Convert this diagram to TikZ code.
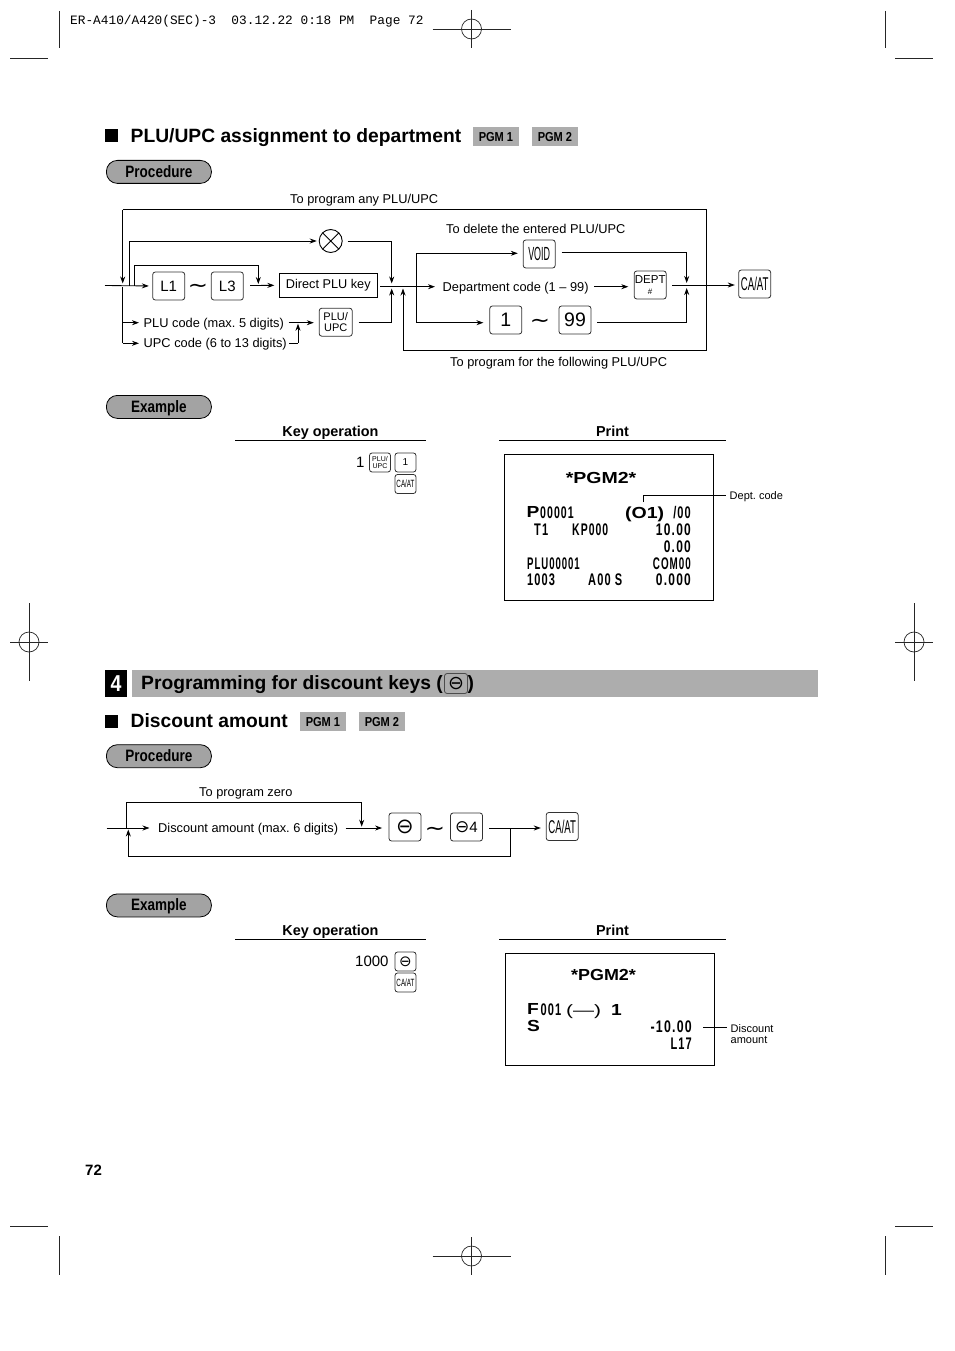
\documentclass[tikz,border=0pt]{standalone}
\usepackage{fontspec}
\usepackage{graphicx}
\setmainfont{Liberation Sans}
\newfontfamily\monof{Liberation Mono}
\newfontfamily\dejav{DejaVu Sans}
\newfontfamily\rcptf[LetterSpace=10,BoldFont={Liberation Sans Bold}]{Liberation Sans}
\usetikzlibrary{arrows.meta,calc}
\newcommand{\fs}[1]{\fontsize{#1}{#1}\selectfont}
\newcommand{\cond}[2]{\scalebox{#1}[1]{#2}}
\newcommand{\mns}[1]{{\dejav\fs{#1}⊖}}
\frenchspacing
\tikzset{
  x=1pt,y=-1pt,
  line/.style={line width=.85pt,draw=black},
  flow/.style={line,-{Stealth[length=7pt,width=5pt]}},
  crop/.style={line width=.7pt,draw=black!85},
  lab/.style={inner sep=0pt,anchor=west,text height=9.2pt,text depth=0pt,font=\fs{12.8}},
  heading/.style={inner sep=0pt,anchor=west,text height=13.8pt,text depth=0pt,font=\bfseries\fs{19.25}},
  colhead/.style={inner sep=0pt,text height=10.2pt,text depth=0pt,font=\bfseries\fs{14.4}},
  smalllab/.style={inner sep=0pt,anchor=west,text height=8pt,text depth=0pt,font=\fs{11}},
  key/.style={draw=black!80,line width=.8pt,rounded corners=2.6pt,inner sep=0pt,align=center,font=\fs{15}},
  bigkey/.style={key,minimum width=32pt,minimum height=28pt},
  minikey/.style={key,minimum width=21pt,minimum height=19pt,font=\fs{10}},
  tagbox/.style={fill=black!32,inner sep=0pt,minimum width=45.5pt,minimum height=19pt,font=\bfseries\fs{13}},
  pill/.style={draw=black,line width=.8pt,fill=black!36,rounded corners=11pt,minimum width=105pt,minimum height=23pt,inner sep=0pt,text height=12pt,text depth=1.5pt,font=\bfseries\fs{16.5}},
  squarebul/.style={fill=black,inner sep=0pt,minimum size=13pt},
  tilde/.style={inner sep=0pt,font=\dejav\fs{21}},
  rcpt/.style={inner sep=0pt,anchor=west,text height=12pt,text depth=0pt,font=\rcptf\bfseries\fs{12}},
  rcptr/.style={rcpt,anchor=east},
  rcptbig/.style={inner sep=0pt,font=\bfseries\fs{16}},
  framebox/.style={draw=black,line width=.8pt,inner sep=0pt,anchor=north west},
}
\newcommand{\rc}[2][.92]{\scalebox{#1}[1.4]{#2}}
\newcommand{\reg}[3]{% name, x, y
  \coordinate (#1) at (#2,#3);
  \draw[crop] ($(#1)+(-39,0)$) -- ($(#1)+(39,0)$);
  \draw[crop] ($(#1)+(0,-19)$) -- ($(#1)+(0,19)$);
  \draw[crop] (#1) circle (10);
}
\newcommand{\regv}[3]{% name, x, y (long vertical)
  \coordinate (#1) at (#2,#3);
  \draw[crop] ($(#1)+(-19,0)$) -- ($(#1)+(19,0)$);
  \draw[crop] ($(#1)+(0,-39)$) -- ($(#1)+(0,39)$);
  \draw[crop] (#1) circle (10);
}
\begin{document}
\begin{tikzpicture}
\useasboundingbox[fill=white] (0,0) rectangle (954,1351);

% printer marks
\draw[crop] (59,11) -- (59,48);
\draw[crop] (885,11) -- (885,48);
\draw[crop] (10,58.5) -- (48,58.5);
\draw[crop] (895,58.5) -- (933,58.5);
\draw[crop] (10,1226) -- (48,1226);
\draw[crop] (895,1226) -- (933,1226);
\draw[crop] (59,1236) -- (59,1275);
\draw[crop] (885,1236) -- (885,1275);
\reg{regtop}{471.5}{29}
\reg{regbot}{471.5}{1256}
\regv{regleft}{29}{642}
\regv{regright}{914}{642}
\node[lab,font=\monof\fs{12.8}] (slug) at (70,19.5) {ER-A410/A420(SEC)-3\ \ 03.12.22 0:18 PM\ \ Page 72};

% ---- heading 1
\node[squarebul,anchor=north west] (b1) at (105,129) {};
\node[heading] (h1) at (130.5,135.5) {PLU/UPC assignment to department};
\node[tagbox,anchor=north west] (t1a) at (473,127) {\cond{.85}{PGM 1}};
\node[tagbox,anchor=north west] (t1b) at (532,127) {\cond{.85}{PGM 2}};
\node[pill,anchor=north west] (proc1) at (106,160) {\cond{.82}{Procedure}};

% ---- flow 1
\node[lab] (lAny) at (290,198.5) {To program any PLU/UPC};
\node[lab] (lDel) at (446,228.5) {To delete the entered PLU/UPC};
\node[lab] (lFol) at (450,361.5) {To program for the following PLU/UPC};
\node[bigkey,minimum width=32pt] (L1) at (168.7,286) {L1};
\node[bigkey,minimum width=32pt] (L3) at (227.3,286) {L3};
\node[tilde] (tl1) at (198,288) {\scalebox{1.15}[1]{∼}};
\node[draw=black,line width=.85pt,minimum width=98pt,minimum height=24pt,inner sep=0pt,font=\fs{12.7}] (dplu) at (328.3,285.3) {Direct PLU key};
\node[circle,draw=black,line width=.9pt,minimum size=23pt,inner sep=0pt,
  path picture={\draw[line width=.9pt] (path picture bounding box.north west) -- (path picture bounding box.south east)
   (path picture bounding box.north east) -- (path picture bounding box.south west);}] (xkey) at (330.7,241) {};
\node[lab] (lplu) at (143.5,322.8) {PLU code (max. 5 digits)};
\node[lab] (lupc) at (143.5,342.8) {UPC code (6 to 13 digits)};
\node[key,minimum width=33pt,minimum height=28pt,font=\fs{11},text depth=0pt,align=center] (plukey) at (335.7,322.2) {PLU/\\[0pt]UPC};
\node[bigkey] (void) at (539.2,254) {\cond{.47}{\fs{19}VOID}};
\node[lab] (ldept) at (442.5,286.7) {Department code (1 -- 99)};
\node[key,minimum width=32pt,minimum height=28pt,font=\fs{11.5},align=center] (dept) at (650.2,285) {DEPT\\[0pt]\fs{8}\#};
\node[bigkey,font=\fs{19.5}] (k1) at (505.8,320) {1};
\node[bigkey,font=\fs{19.5}] (k99) at (575,320) {99};
\node[tilde] (tl2) at (540,323) {\scalebox{1.15}[1]{∼}};
\node[bigkey] (caat) at (754.7,284) {\cond{.52}{\fs{18.5}CA/AT}};

\coordinate (in1) at (105,285.5);
\coordinate (jb) at (129.3,285.5);
\coordinate (jc) at (134.7,285.5);
\coordinate (atop) at (122.7,209.5);
\coordinate (atip) at (122.7,283.5);
\coordinate (abot) at (122.7,287);
\coordinate (bxk) at (129.3,241);
\coordinate (cup) at (134.7,265.3);
\coordinate (cright) at (258.3,265.3);
\coordinate (cdown) at (258.3,284);
\coordinate (l3out) at (250,285.5);
\coordinate (m1) at (391.7,241);
\coordinate (mtip) at (391.7,283.5);
\coordinate (mlow) at (391.7,288.5);
\coordinate (mp) at (391.7,322.7);
\coordinate (mj) at (416.7,286.7);
\coordinate (dout) at (380,286.7);
\coordinate (v1) at (416.7,253.3);
\coordinate (v2) at (416.7,322.7);
\coordinate (rloop) at (403,350.7);
\coordinate (rtip) at (403,288.5);
\coordinate (rr) at (706.7,350.7);
\coordinate (rt) at (706.7,209.5);
\coordinate (p1) at (122.7,322.7);
\coordinate (u1) at (122.7,343.3);
\coordinate (ptip) at (139,322.7);
\coordinate (utip) at (139,343.3);
\coordinate (p2) at (288.7,322.7);
\coordinate (u2) at (289,343);
\coordinate (u3) at (298,343);
\coordinate (u4) at (298,323.7);
\coordinate (o1) at (686.7,252.3);
\coordinate (o1t) at (686.7,283);
\coordinate (o2) at (686.7,322);
\coordinate (o2t) at (686.7,288);
\coordinate (deptout) at (672,285);

\draw[flow,shorten >=3.5pt] (in1) -- (L1.west);
\draw[line] (rloop) -- (rr) -- (rt) -- (atop);
\draw[flow] (atop) -- (atip);
\draw[line] (abot) -- (u1);
\draw[flow] (u1) -- (utip);
\draw[flow] (p1) -- (ptip);
\draw[flow,shorten >=2pt] (jb) -- (bxk) -- (xkey.west);
\draw[line] (jc) -- (cup) -- (cright);
\draw[flow] (cright) -- (cdown);
\draw[flow,shorten >=4.5pt] (l3out) -- (dplu.west);
\draw[line,shorten <=5pt] (xkey.east) -- (m1);
\draw[flow] (m1) -- (mtip);
\draw[line,shorten <=6pt] (plukey.east |- mp) -- (mp);
\draw[flow] (mp) -- (mlow);
\draw[line] (dout) -- (mj);
\draw[flow,shorten >=7.5pt] (mj) -- (ldept.west);
\draw[flow,shorten >=5pt] (v1) -- (void.west |- v1);
\draw[line] (v1) -- (v2);
\draw[flow,shorten >=6pt] (v2) -- (k1.west |- v2);
\draw[flow] (rloop) -- (rtip);
\draw[flow,shorten >=5pt] (p2) -- (plukey.west |- p2);
\draw[line] (u2) -- (u3);
\draw[flow] (u3) -- (u4);
\draw[flow,shorten <=151.5pt,shorten >=5.5pt] (ldept.west) -- (dept.west |- ldept.west);
\draw[line,shorten <=6pt] (void.east |- o1) -- (o1);
\draw[flow] (o1) -- (o1t);
\draw[line,shorten <=6pt] (k99.east |- o2) -- (o2);
\draw[flow] (o2) -- (o2t);
\draw[flow,shorten >=3.5pt] (deptout) -- (caat.west |- deptout);

% ---- example 1
\node[pill,anchor=north west] (ex1) at (106,395) {\cond{.82}{Example}};
\node[colhead] (ko1) at (330.5,431.5) {Key operation};
\node[colhead] (pr1) at (612.5,431.5) {Print};
\draw[line] (235,440.5) -- (426,440.5);
\draw[line] (499,440.5) -- (726,440.5);
\node[lab,text height=10.7pt,font=\fs{15}] (n1) at (356,462.5) {1};
\node[minikey,font=\fs{7},align=center] (kp) at (380,462.5) {PLU/\\[0pt]UPC};
\node[minikey] (k1s) at (405.5,462.5) {1};
\node[minikey] (kc1) at (405.5,484) {\cond{.6}{\fs{10.5}CA/AT}};

\node[framebox,minimum width=209pt,minimum height=145.7pt] (rec1) at (504.3,454.3) {};
\node[rcptbig] (r1t) at (601,477.5) {\scalebox{1.22}[1]{*PGM2*}};
\node[rcptbig,anchor=west] (r1p) at (526.5,512) {\scalebox{1.2}[1]{P}};
\node[rcpt] (r1a) at (540,512) {\rc[.88]{00001}};
\node[rcpt,font=\bfseries\fs{16}] (r1b) at (625,512) {\scalebox{1.22}[1]{(O1)}};
\node[rcptr] (r1c) at (691,512) {\rc{/00}};
\node[rcpt] (r2a) at (534,529) {\rc{T1}};
\node[rcpt] (r2b) at (572,529) {\rc[.87]{KP000}};
\node[rcptr] (r2c) at (691,529) {\rc[1]{10.00}};
\node[rcptr] (r3c) at (691,546) {\rc[1]{0.00}};
\node[rcpt] (r4a) at (527,563) {\rc[.8]{PLU00001}};
\node[rcptr] (r4c) at (691,563) {\rc[.82]{COM00}};
\node[rcpt] (r5a) at (527,579.5) {\rc{1003}};
\node[rcpt] (r5b) at (588,579.5) {\rc{A00 S}};
\node[rcptr] (r5c) at (691,579.5) {\rc[1]{0.000}};
\node[smalllab] (ldc) at (729.5,495.5) {Dept. code};
\coordinate (dc1) at (643.3,502);
\coordinate (dc2) at (643.3,495.5);
\draw[line] (dc1) -- (dc2) -- ($(ldc.west)+(-3.5,0)$);

% ---- section banner
\node[fill=black,text=white,inner sep=0pt,minimum width=21.5pt,minimum height=27.5pt,anchor=north west,font=\bfseries\fs{23}] (sec) at (105,669.3) {\cond{.85}{4}};
\node[fill=black!32,inner sep=0pt,minimum width=686.5pt,minimum height=27pt,anchor=north west] (band) at (131.7,670) {};
\node[heading] (h2) at (141,683) {Programming for discount keys (};
\node[key,minimum width=23pt,minimum height=20pt,draw=black!70] (minus0) at (456,683.5) {\mns{19}};
\node[heading] (h2b) at (467.5,683) {)};

\node[squarebul,anchor=north west] (b2) at (105,714.5) {};
\node[heading] (h3) at (130.5,721) {Discount amount};
\node[tagbox,anchor=north west] (t2a) at (300,712) {\cond{.85}{PGM 1}};
\node[tagbox,anchor=north west] (t2b) at (359,712) {\cond{.85}{PGM 2}};
\node[pill,anchor=north west] (proc2) at (106,744.3) {\cond{.82}{Procedure}};

% ---- flow 2
\node[lab] (lzero) at (199,791.5) {To program zero};
\node[lab] (ldisc) at (158,828) {Discount amount (max. 6 digits)};
\node[bigkey] (mk) at (405,827) {\mns{21}};
\node[tilde] (tl3) at (435,831) {\scalebox{1.15}[1]{∼}};
\node[bigkey] (mk4) at (466.5,827) {\mns{17}{\fs{15}4}};
\node[bigkey] (caat2) at (562.2,826.5) {\cond{.52}{\fs{18.5}CA/AT}};
\coordinate (in2) at (106.7,828);
\coordinate (ztop) at (126.7,802.7);
\coordinate (zbot) at (126.7,828);
\coordinate (zr) at (361.7,802.7);
\coordinate (ztip) at (361.7,826.7);
\coordinate (a2) at (345.7,828);
\coordinate (a3) at (489.3,828);
\coordinate (a4) at (510,828);
\coordinate (rb) at (510,856.7);
\coordinate (rl) at (128.3,856.7);
\coordinate (rltip) at (128.3,829.5);
\draw[flow,shorten >=8.5pt] (in2) -- (ldisc.west);
\draw[line] (zbot) -- (ztop) -- (zr);
\draw[flow] (zr) -- (ztip);
\draw[flow,shorten >=6.5pt] (a2) -- (mk.west |- a2);
\draw[flow,shorten >=5pt] (a3) -- (caat2.west |- a3);
\draw[line] (a4) -- (rb) -- (rl);
\draw[flow] (rl) -- (rltip);

% ---- example 2
\node[pill,anchor=north west] (ex2) at (106,893.5) {\cond{.82}{Example}};
\node[colhead] (ko2) at (330.5,930.5) {Key operation};
\node[colhead] (pr2) at (612.5,930.5) {Print};
\draw[line] (235,939.5) -- (426,939.5);
\draw[line] (499,939.5) -- (726,939.5);
\node[lab,text height=10.7pt,font=\fs{15}] (n1000) at (355,961.5) {1000};
\node[minikey] (km) at (405.5,961.5) {\mns{15}};
\node[minikey] (kc2) at (405.5,982.5) {\cond{.6}{\fs{10.5}CA/AT}};

\node[framebox,minimum width=209pt,minimum height=112.5pt] (rec2) at (505.3,952.7) {};
\node[rcptbig] (r6t) at (603.5,974.5) {\scalebox{1.12}[1]{*PGM2*}};
\node[rcptbig,anchor=west] (r7p) at (527,1009) {\scalebox{1.2}[1]{F}};
\node[rcpt] (r7a) at (540.5,1009) {\rc{001}};
\node[rcpt,font=\fs{15}] (r7b) at (566,1009) {\scalebox{1.4}[1]{(---)}};
\node[rcpt,font=\bfseries\fs{16}] (r7c) at (611,1009) {\scalebox{1.2}[1]{1}};
\node[rcptbig,anchor=west] (r8s) at (527,1025.5) {\scalebox{1.2}[1]{S}};
\node[rcptr] (r8c) at (692,1026) {\rc[1.03]{-10.00}};
\node[rcptr] (r9c) at (692,1043) {\rc{L17}};
\node[smalllab] (ldisc1) at (730.5,1028) {Discount};
\node[smalllab] (ldisc2) at (730.5,1039.5) {amount};
\coordinate (da) at (703,1027);
\draw[line,shorten >=3.5pt] (da) -- (da -| ldisc1.west);

\node[lab,text height=10.7pt,font=\bfseries\fs{15}] (pg) at (85,1170.5) {72};
\end{tikzpicture}
\end{document}
